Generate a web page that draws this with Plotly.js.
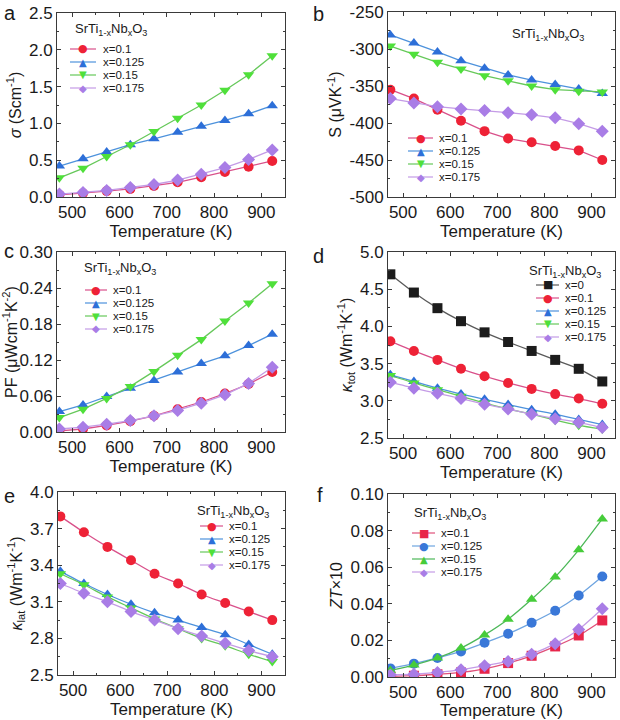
<!DOCTYPE html>
<html><head><meta charset="utf-8">
<script src="https://cdn.plot.ly/plotly-3.0.1.min.js"></script>
<style>body{margin:0;background:#fff}#chart{width:620px;height:720px}</style>
</head><body><div id="chart"></div>
<script>
// ---------------- DATA ----------------
const temperature = [473, 523, 573, 623, 673, 723, 773, 823, 873, 923];
const labels4 = ['x=0.1', 'x=0.125', 'x=0.15', 'x=0.175'];
const labels5 = ['x=0', 'x=0.1', 'x=0.125', 'x=0.15', 'x=0.175'];
const formulaText = 'SrTi<sub>1-x</sub>Nb<sub>x</sub>O<sub>3</sub>';

// (a) electrical conductivity, S/cm
const sigma_x0100 = [0.03, 0.05, 0.08, 0.11, 0.15, 0.20, 0.27, 0.34, 0.41, 0.49];
const sigma_x0125 = [0.42, 0.52, 0.61, 0.71, 0.79, 0.88, 0.96, 1.04, 1.13, 1.24];
const sigma_x0150 = [0.26, 0.39, 0.55, 0.71, 0.89, 1.07, 1.25, 1.45, 1.66, 1.92];
const sigma_x0175 = [0.04, 0.06, 0.09, 0.13, 0.17, 0.23, 0.31, 0.40, 0.51, 0.64];

// (b) Seebeck coefficient, uV/K
const seebeck_x0100 = [-355, -367, -382, -397, -411, -421, -426, -431, -437, -450];
const seebeck_x0125 = [-281, -292, -304, -316, -326, -335, -342, -348, -354, -360];
const seebeck_x0150 = [-296, -307, -318, -327, -336, -343, -350, -355, -357, -358];
const seebeck_x0175 = [-367, -373, -378, -381, -383, -386, -389, -393, -401, -411];

// (c) power factor, uW cm^-1 K^-2
const pf_x0100 = [0.002, 0.005, 0.011, 0.018, 0.027, 0.038, 0.050, 0.064, 0.080, 0.100];
const pf_x0125 = [0.034, 0.045, 0.059, 0.073, 0.086, 0.100, 0.114, 0.127, 0.144, 0.163];
const pf_x0150 = [0.024, 0.038, 0.056, 0.076, 0.101, 0.128, 0.154, 0.185, 0.215, 0.247];
const pf_x0175 = [0.005, 0.008, 0.013, 0.019, 0.027, 0.036, 0.048, 0.062, 0.081, 0.108];

// (d) total thermal conductivity, W m^-1 K^-1
const ktot_x0000 = [4.70, 4.455, 4.245, 4.07, 3.92, 3.79, 3.67, 3.55, 3.43, 3.26];
const ktot_x0100 = [3.80, 3.67, 3.55, 3.43, 3.33, 3.24, 3.16, 3.09, 3.03, 2.96];
const ktot_x0125 = [3.35, 3.26, 3.17, 3.09, 3.02, 2.95, 2.88, 2.82, 2.75, 2.68];
const ktot_x0150 = [3.34, 3.24, 3.15, 3.06, 2.97, 2.89, 2.82, 2.74, 2.67, 2.62];
const ktot_x0175 = [3.25, 3.17, 3.10, 3.03, 2.955, 2.89, 2.82, 2.76, 2.71, 2.64];

// (e) lattice thermal conductivity, W m^-1 K^-1
const klat_x0100 = [3.80, 3.67, 3.55, 3.44, 3.33, 3.25, 3.16, 3.09, 3.02, 2.95];
const klat_x0125 = [3.35, 3.25, 3.16, 3.08, 3.01, 2.95, 2.89, 2.83, 2.75, 2.67];
const klat_x0150 = [3.33, 3.24, 3.14, 3.05, 2.96, 2.88, 2.80, 2.74, 2.67, 2.61];
const klat_x0175 = [3.25, 3.17, 3.10, 3.02, 2.95, 2.88, 2.82, 2.76, 2.70, 2.65];

// (f) ZT x 10
const zt_x0100 = [0.0004, 0.0007, 0.0015, 0.0025, 0.0045, 0.0076, 0.0116, 0.0167, 0.0227, 0.0309];
const zt_x0125 = [0.0047, 0.0073, 0.0104, 0.0140, 0.0187, 0.0236, 0.0296, 0.0362, 0.0445, 0.0549];
const zt_x0150 = [0.0036, 0.0065, 0.0104, 0.0158, 0.0230, 0.0316, 0.0425, 0.0547, 0.0695, 0.0864];
const zt_x0175 = [0.0011, 0.0015, 0.0025, 0.0040, 0.0062, 0.0085, 0.0125, 0.0182, 0.0260, 0.0373];

const seebeckTicks = [-500, -450, -400, -350, -300, -250];
const seebeckTickText = ['-500', '-450', '-400', '-350', '-300', '-250'];

// ---------------- STYLE ----------------
const W = 620, H = 720;
const FONT = 'Liberation Sans';
const AX = '#3a3a3a';
const st = {
  black:  {m: '#1c1c1c', l: '#5a5a5a', g: '■'},
  red:    {m: '#ee2236', l: '#d9508a', g: '●'},
  blue:   {m: '#2d6fd8', l: '#4d92dc', g: '▲'},
  green:  {m: '#4fe03a', l: '#66c85a', g: '▼'},
  purple: {m: '#a97de6', l: '#c49be6', g: '◆'}
};
const sym = {'●': 'circle', '▲': 'triangle-up', '▼': 'triangle-down', '◆': 'diamond', '■': 'square'};

// panel boxes in pixels
const P = {
  a: {x0: 57, x1: 285, y0: 13, y1: 197},
  b: {x0: 388, x1: 615, y0: 12, y1: 197},
  c: {x0: 57, x1: 285, y0: 252, y1: 432},
  d: {x0: 388, x1: 615, y0: 252, y1: 438},
  e: {x0: 58, x1: 285, y0: 492, y1: 675},
  f: {x0: 388, x1: 615, y0: 494, y1: 677}
};
const keys = ['a', 'b', 'c', 'd', 'e', 'f'];
const px = x => x / W, py = y => 1 - y / H;

const traces = [];
const layout = {
  width: W, height: H, margin: {l: 0, r: 0, t: 0, b: 0},
  paper_bgcolor: '#fff', plot_bgcolor: '#fff',
  font: {family: FONT, size: 17, color: '#1a1a1a'},
  showlegend: false, shapes: [], annotations: []
};

function addSeries(k, y, s, name, shape) {
  const i = keys.indexOf(k) + 1;
  traces.push({
    x: temperature, y: y, name: name, type: 'scatter', mode: 'lines+markers',
    xaxis: i === 1 ? 'x' : 'x' + i, yaxis: i === 1 ? 'y' : 'y' + i,
    line: {color: s.l, width: 1.3, shape: shape || 'linear', smoothing: 0.6},
    marker: {color: s.m, size: 10, symbol: sym[s.g], line: {width: 0}}
  });
}

function setAxes(k, yrange, ydt, yfmt, ytitle, minorY, extraY) {
  const i = keys.indexOf(k) + 1, b = P[k];
  const common = {
    showline: true, linecolor: AX, linewidth: 1, mirror: 'ticks', ticks: 'inside',
    ticklen: 4, tickcolor: AX, showgrid: false, zeroline: false,
    tickfont: {family: FONT, size: 17, color: '#1a1a1a'}
  };
  layout['xaxis' + (i === 1 ? '' : i)] = Object.assign({}, common, {
    domain: [px(b.x0), px(b.x1)], range: [468, 950], tick0: 500, dtick: 100,
    anchor: i === 1 ? 'y' : 'y' + i,
    minor: {ticks: 'inside', ticklen: 2, tickcolor: AX, dtick: 50, tick0: 500},
    title: {text: 'Temperature (K)', font: {family: FONT, size: 17}, standoff: 1}
  });
  layout['yaxis' + (i === 1 ? '' : i)] = Object.assign({}, common, {
    domain: [py(b.y1), py(b.y0)], range: yrange, tick0: yrange[0], dtick: ydt, tickformat: yfmt,
    anchor: i === 1 ? 'x' : 'x' + i,
    minor: {ticks: 'inside', ticklen: 2, tickcolor: AX, dtick: minorY, tick0: yrange[0]},
    title: {text: ytitle, font: {family: FONT, size: 16}, standoff: 3}
  }, extraY || {});
}

function addLegend(items, lx0, lx1, tx, ys) {
  items.forEach((it, j) => {
    const y = ys[j];
    layout.shapes.push({type: 'line', xref: 'paper', yref: 'paper',
      x0: px(lx0), x1: px(lx1), y0: py(y), y1: py(y), line: {color: it.s.l, width: 1.2}});
    const gl = it.s.g;
    layout.annotations.push({xref: 'paper', yref: 'paper', x: px((lx0 + lx1) / 2), y: py(y),
      text: gl, showarrow: false, xanchor: 'center', yanchor: 'middle',
      font: {family: 'DejaVu Sans', size: gl === '●' || gl === '■' ? 11 : 10, color: it.s.m}});
    layout.annotations.push({xref: 'paper', yref: 'paper', x: px(tx), y: py(y),
      text: it.name, showarrow: false, xanchor: 'left', yanchor: 'middle',
      font: {family: FONT, size: 11.5, color: '#1a1a1a'}});
  });
}
function addText(text, x, y, size, anchor) {
  layout.annotations.push({xref: 'paper', yref: 'paper', x: px(x), y: py(y), text: text,
    showarrow: false, xanchor: anchor || 'left', yanchor: 'middle',
    font: {family: FONT, size: size, color: '#1a1a1a'}});
}

const cols4 = [st.red, st.blue, st.green, st.purple];

// (a)
[sigma_x0100, sigma_x0125, sigma_x0150, sigma_x0175].forEach((y, j) => addSeries('a', y, cols4[j], labels4[j]));
setAxes('a', [0, 2.5], 0.5, '.1f', '<i>σ</i> (Scm<sup>-1</sup>)', 0.25);
addText(formulaText, 73, 30, 13);
addLegend(labels4.map((n, j) => ({name: n, s: cols4[j]})), 70, 96, 101, [49, 62, 75, 88]);

// (b)
[seebeck_x0100, seebeck_x0125, seebeck_x0150, seebeck_x0175].forEach((y, j) => addSeries('b', y, cols4[j], labels4[j]));
setAxes('b', [-500, -250], 50, '', 'S (μVK<sup>-1</sup>)', 25, {tickvals: seebeckTicks, ticktext: seebeckTickText});
addText(formulaText, 548, 34, 13, 'center');
addLegend(labels4.map((n, j) => ({name: n, s: cols4[j]})), 408, 433, 437, [138, 151, 164, 177]);

// (c)
[pf_x0100, pf_x0125, pf_x0150, pf_x0175].forEach((y, j) => addSeries('c', y, cols4[j], labels4[j]));
setAxes('c', [0, 0.30], 0.06, '.2f', 'PF (μWcm<sup>-1</sup>K<sup>-2</sup>)', 0.03);
addText(formulaText, 82, 268, 13);
addLegend(labels4.map((n, j) => ({name: n, s: cols4[j]})), 85, 107, 111, [290, 303, 316, 329]);

// (d)
const cols5 = [st.black, st.red, st.blue, st.green, st.purple];
[ktot_x0000, ktot_x0100, ktot_x0125, ktot_x0150, ktot_x0175].forEach((y, j) => addSeries('d', y, cols5[j], labels5[j], 'spline'));
setAxes('d', [2.5, 5.0], 0.5, '.1f', '<i>κ</i><sub>tot</sub> (Wm<sup>-1</sup>K<sup>-1</sup>)', 0.25);
addText(formulaText, 527, 271, 13);
addLegend(labels5.map((n, j) => ({name: n, s: cols5[j]})), 536, 559, 563, [285, 298, 311, 324, 337]);

// (e)
[klat_x0100, klat_x0125, klat_x0150, klat_x0175].forEach((y, j) => addSeries('e', y, cols4[j], labels4[j], 'spline'));
setAxes('e', [2.5, 4.0], 0.3, '.1f', '<i>κ</i><sub>lat</sub> (Wm<sup>-1</sup>K<sup>-1</sup>)', 0.15);
addText(formulaText, 195, 511, 13);
addLegend(labels4.map((n, j) => ({name: n, s: cols4[j]})), 200, 223, 227, [526, 539, 552, 565]);

// (f)
const colsF = [
  {m: '#e8254a', l: '#e0507a', g: '■'},
  {m: '#3a78d8', l: '#6ea4e0', g: '●'},
  {m: '#46cc3a', l: '#4cb858', g: '▲'},
  {m: '#a97de6', l: '#c49be6', g: '◆'}
];
[zt_x0100, zt_x0125, zt_x0150, zt_x0175].forEach((y, j) => addSeries('f', y, colsF[j], labels4[j], 'spline'));
setAxes('f', [0, 0.10], 0.02, '.2f', '<i>ZT</i>×10', 0.01);
addText(formulaText, 412, 513, 13);
addLegend(labels4.map((n, j) => ({name: n, s: colsF[j]})), 412, 435, 439, [533, 546, 559, 572]);

// panel letters
[['a', 2, 13], ['b', 311, 14], ['c', 2, 251], ['d', 311, 256], ['e', 2, 496], ['f', 315, 495]]
  .forEach(([t, x, y]) => addText(t, x, y, 20));

Plotly.newPlot('chart', traces, layout, {displayModeBar: false, staticPlot: true});
</script>
</body></html>
